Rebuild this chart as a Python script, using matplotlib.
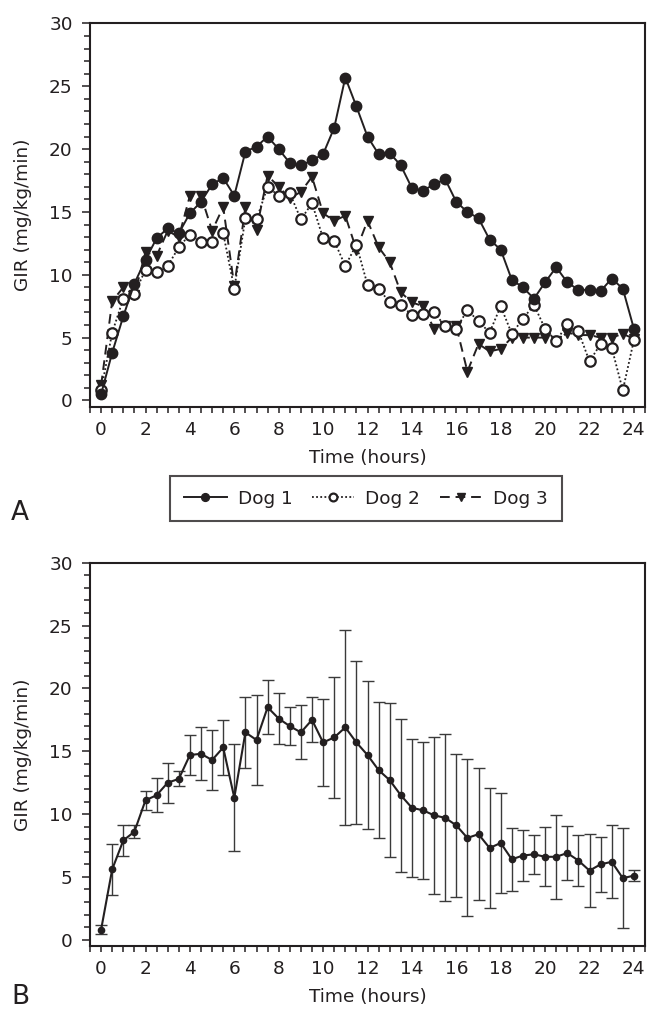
import matplotlib
matplotlib.use('Agg')
import matplotlib.pyplot as plt
from matplotlib.ticker import MultipleLocator

plt.rcParams['font.family'] = ['DejaVu Sans']

INK = '#231f20'

# time points (hours)
hours = [0, 0.5, 1, 1.5, 2, 2.5, 3, 3.5, 4, 4.5, 5, 5.5, 6, 6.5, 7, 7.5,
         8, 8.5, 9, 9.5, 10, 10.5, 11, 11.5, 12, 12.5, 13, 13.5, 14, 14.5,
         15, 15.5, 16, 16.5, 17, 17.5, 18, 18.5, 19, 19.5, 20, 20.5, 21,
         21.5, 22, 22.5, 23, 23.5, 24]

# panel A: GIR per dog (mg/kg/min)
dog1 = [0.5, 3.8, 6.7, 9.3, 11.2, 12.9, 13.7, 13.3, 14.9, 15.8, 17.2, 17.7,
        16.3, 19.8, 20.2, 21.0, 20.0, 18.9, 18.7, 19.1, 19.6, 21.7, 25.7,
        23.4, 21.0, 19.6, 19.7, 18.7, 16.9, 16.7, 17.2, 17.6, 15.8, 15.0,
        14.5, 12.8, 12.0, 9.6, 9.0, 8.1, 9.4, 10.6, 9.4, 8.8, 8.8, 8.7,
        9.7, 8.9, 5.7]
dog2 = [0.8, 5.4, 8.1, 8.5, 10.4, 10.2, 10.7, 12.2, 13.2, 12.6, 12.6, 13.3,
        8.9, 14.5, 14.4, 17.0, 16.3, 16.5, 14.4, 15.7, 12.9, 12.7, 10.7,
        12.4, 9.2, 8.9, 7.8, 7.6, 6.8, 6.9, 7.0, 5.9, 5.7, 7.2, 6.3, 5.4,
        7.5, 5.3, 6.5, 7.6, 5.7, 4.7, 6.1, 5.5, 3.1, 4.5, 4.2, 0.8, 4.8]
dog3 = [1.2, 7.9, 9.0, 8.4, 11.8, 11.5, 13.5, 13.0, 16.3, 16.3, 13.5, 15.4,
        9.1, 15.4, 13.6, 17.9, 17.0, 16.1, 16.6, 17.8, 14.9, 14.3, 14.7,
        12.0, 14.3, 12.2, 11.0, 8.6, 7.8, 7.5, 5.7, 5.9, 5.9, 2.3, 4.5, 3.9,
        4.1, 5.0, 5.0, 5.0, 5.0, 4.7, 5.4, 5.2, 5.2, 5.0, 5.0, 5.3, 4.9]

# panel B: mean and SD
gir_mean = [0.8, 5.6, 7.9, 8.6, 11.1, 11.5, 12.5, 12.8, 14.7, 14.8, 14.3,
            15.3, 11.3, 16.5, 15.9, 18.5, 17.6, 17.0, 16.5, 17.5, 15.7, 16.1,
            16.9, 15.7, 14.7, 13.5, 12.7, 11.5, 10.5, 10.3, 9.9, 9.7, 9.1,
            8.1, 8.4, 7.3, 7.7, 6.4, 6.7, 6.8, 6.6, 6.6, 6.9, 6.3, 5.5, 6.0,
            6.2, 4.9, 5.1]
gir_sd = [0.35, 2.05, 1.25, 0.5, 0.75, 1.35, 1.6, 0.6, 1.6, 2.1, 2.4, 2.2,
          4.25, 2.85, 3.55, 2.15, 2.0, 1.5, 2.15, 1.8, 3.45, 4.8, 7.75, 6.5,
          5.9, 5.4, 6.15, 6.1, 5.5, 5.45, 6.25, 6.65, 5.7, 6.25, 5.25, 4.75,
          3.95, 2.5, 2.0, 1.55, 2.35, 3.35, 2.15, 2.0, 2.9, 2.2, 2.9, 4.0,
          0.45]

W, H = 647, 1010
FS = 13.3


def style_axes(ax):
    ax.set_xlim(-0.5, 24.5)
    ax.set_ylim(-0.5, 30)
    ax.xaxis.set_major_locator(MultipleLocator(2))
    ax.xaxis.set_minor_locator(MultipleLocator(0.5))
    ax.yaxis.set_major_locator(MultipleLocator(5))
    ax.yaxis.set_minor_locator(MultipleLocator(1))
    for sp in ax.spines.values():
        sp.set_linewidth(1.5)
        sp.set_color(INK)
    ax.tick_params(which='both', direction='out', color=INK, width=1.1,
                   labelsize=FS, labelcolor=INK)
    ax.tick_params(axis='x', which='both', length=4, pad=6)
    ax.tick_params(axis='y', which='major', length=5.5, pad=7)
    ax.tick_params(axis='y', which='minor', length=4.5)
    ax.set_xlabel('Time (hours)', fontsize=FS, color=INK, va='center')
    ax.set_ylabel('GIR (mg/kg/min)', fontsize=FS, color=INK, va='center')
    ax.xaxis.set_label_coords(0.5, -0.133)
    ax.yaxis.set_label_coords(-0.12, 0.5)


fig = plt.figure(figsize=(W / 100, H / 100), dpi=100)

axA = fig.add_axes([90 / W, 1 - 406.7 / H, 555 / W, 383.2 / H])
style_axes(axA)
axA.plot(hours, dog1, color=INK, lw=1.4, marker='o', ms=7.5,
         mfc=INK, mec=INK, label='Dog 1', zorder=4)
axA.plot(hours, dog2, color=INK, lw=1.3, ls=(0, (1, 1.3)), marker='o', ms=7.5,
         mfc='white', mec=INK, mew=1.6, label='Dog 2', zorder=3)
axA.plot(hours, dog3, color=INK, lw=1.4, ls=(0, (5, 3)), marker='v', ms=7,
         mfc=INK, mec=INK, label='Dog 3', zorder=2)

leg = fig.legend(loc='center', bbox_to_anchor=(366 / W, 1 - 498.5 / H),
                 ncol=3, fontsize=FS, frameon=True, fancybox=False,
                 edgecolor=INK, handlelength=2.3, handletextpad=0.6,
                 columnspacing=1.05, borderpad=0.75, markerscale=0.75)
leg.get_frame().set_linewidth(1.5)
for txt in leg.get_texts():
    txt.set_color(INK)

axB = fig.add_axes([90 / W, 1 - 946 / H, 555 / W, 383.2 / H])
style_axes(axB)
axB.errorbar(hours, gir_mean, yerr=gir_sd, color=INK, lw=1.5, marker='o',
             ms=4.5, ecolor='#3a3a3a', elinewidth=1.0, capsize=4,
             capthick=1.0)

fig.text(20 / W, 1 - 513 / H, 'A', fontsize=19, color=INK,
         ha='center', va='center')
fig.text(20 / W, 1 - 997 / H, 'B', fontsize=19, color=INK,
         ha='center', va='center')

fig.savefig('out.png', dpi=100)
